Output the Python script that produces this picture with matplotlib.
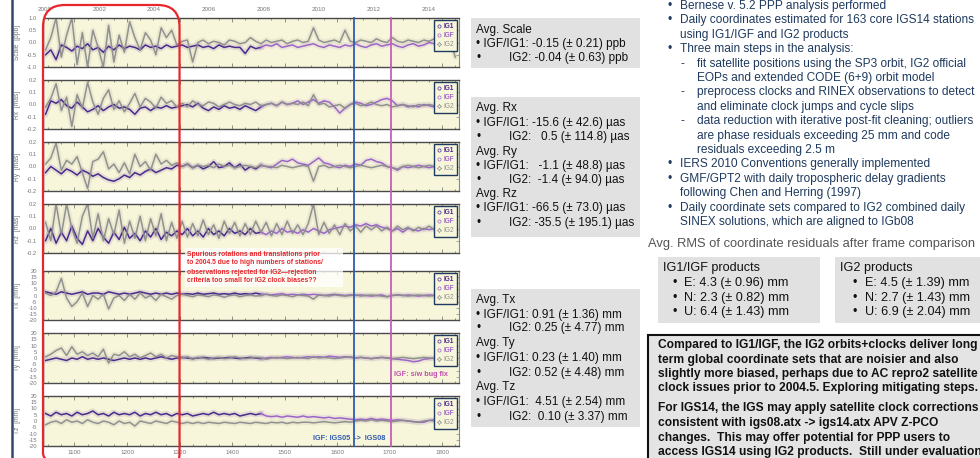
import matplotlib
matplotlib.use('Agg')
import matplotlib.pyplot as plt
import numpy as np
from matplotlib.patches import FancyBboxPatch, Rectangle
from matplotlib.lines import Line2D
import matplotlib.transforms as mtransforms

plt.rcParams['font.family'] = ['Liberation Sans', 'DejaVu Sans']

# ---------------- data ----------------
weeks = np.arange(1045, 1830, 10)   # GPS weeks (79 samples)
IG1_LAST = 41                        # IG1 until ~week 1455, IGF afterwards

scale_ig1igf = [
 -0.5, -0.3, -0.7, -0.1, -0.2, -0.35, -0.15, -0.25, -0.05, -0.3,
 -0.2, -0.4, -0.15, -0.3, -0.1, -0.25, -0.15, -0.2, -0.3, -0.1,
 -0.2, -0.15, -0.25, -0.1, -0.2, -0.15, -0.1, -0.2, -0.15, -0.1,
 -0.2, -0.15, -0.25, -0.1, -0.2, -0.15, -0.2, -0.2, -0.45, -0.15,
 -0.25, -0.2, -0.1, -0.15, -0.05, -0.2, -0.15, -0.1, -0.2, -0.15,
 -0.1, -0.05, -0.15, -0.2, -0.1, -0.15, -0.2, -0.1, -0.15, -0.05,
 -0.15, -0.2, -0.1, -0.05, -0.15, -0.1, -0.05, -0.15, -0.2, -0.1,
 -0.05, -0.15, -0.1, 0.0, -0.05, -0.1, -0.05, -0.1, -0.1]
scale_ig2 = [
 -0.3, 0.2, 1.0, -0.6, 0.3, 1.0, -0.9, 0.4, -1.0, 0.5,
 -0.2, -1.0, 0.7, -0.8, 0.3, -0.4, 0.85, 0.2, -0.3, 0.4,
 0.1, -0.5, 0.6, 0.2, 0.5, -0.1, 0.05, 0.1, -0.8, 0.0,
 0.1, -0.05, 0.05, 0.0, -0.1, 0.1, 0.05, -0.05, 0.0, 0.2,
 0.05, -0.05, 0.1, 0.0, 0.05, 0.1, -0.05, 0.05, 0.1, 0.0,
 0.05, 0.6, 0.1, 0.0, 0.05, 0.1, 0.0, 0.5, 0.05, 0.0,
 0.1, 0.05, 0.0, 0.15, 0.05, 0.0, 0.2, 0.05, 0.0, 0.1,
 0.05, 0.0, 0.1, 0.05, 0.15, 0.0, 0.05, 0.1, -0.6]

rx_ig1igf = [
 -0.08, 0.03, 0.01, 0.04, -0.01, -0.03, 0.02, -0.02, -0.06, -0.04,
 -0.01, -0.05, -0.02, 0.0, -0.03, -0.02, -0.04, -0.08, -0.03, -0.02,
 -0.05, -0.02, -0.03, -0.01, -0.03, -0.02, -0.01, 0.0, -0.02, 0.01,
 -0.03, -0.05, -0.02, -0.04, -0.01, -0.03, -0.02, -0.04, -0.01, -0.03,
 -0.05, -0.02, 0.0, 0.01, -0.01, 0.02, 0.0, 0.01, 0.03, 0.0,
 0.02, 0.04, 0.01, 0.03, 0.02, -0.02, -0.07, -0.03, 0.0, 0.02,
 0.01, -0.01, 0.0, 0.02, 0.04, 0.05, 0.03, -0.01, 0.0, -0.02,
 -0.01, -0.02, 0.0, -0.01, -0.02, -0.01, 0.0, -0.01, 0.0]
rx_ig2 = [
 -0.02, 0.05, 0.17, -0.05, 0.06, -0.18, 0.08, -0.03, 0.18, 0.02,
 -0.08, 0.05, 0.12, -0.04, 0.03, -0.06, 0.01, 0.09, -0.02, 0.05,
 0.02, -0.03, 0.06, 0.01, 0.03, -0.02, 0.01, -0.02, 0.03, 0.0,
 -0.01, 0.02, 0.01, -0.02, 0.0, 0.02, 0.0, -0.01, 0.01, 0.0,
 0.02, -0.01, 0.0, 0.01, -0.01, 0.02, 0.0, 0.01, 0.0, 0.02,
 -0.01, 0.08, 0.0, 0.01, -0.02, -0.01, 0.0, -0.03, 0.0, 0.01,
 -0.01, 0.0, 0.02, 0.0, -0.01, 0.0, -0.02, -0.01, 0.0, -0.01,
 -0.02, 0.0, -0.01, 0.0, -0.01, 0.0, 0.01, 0.0, 0.0]

ry_ig1igf = [
 -0.05, 0.0, -0.03, -0.06, -0.02, -0.04, -0.07, -0.03, -0.05, -0.08,
 -0.06, -0.09, -0.11, -0.12, -0.1, -0.07, -0.09, -0.05, -0.07, -0.04,
 -0.02, -0.05, -0.03, -0.01, -0.02, 0.01, 0.0, 0.02, -0.01, 0.01,
 -0.02, 0.0, 0.04, -0.01, 0.0, 0.03, -0.01, 0.02, -0.03, 0.0,
 -0.02, 0.01, 0.0, -0.01, 0.02, 0.05, 0.04, 0.06, 0.03, 0.02,
 0.01, 0.04, 0.07, 0.03, 0.02, 0.0, -0.01, 0.01, 0.0, 0.02,
 0.01, 0.05, 0.06, 0.04, 0.03, 0.0, -0.01, -0.03, 0.0, -0.01,
 0.0, 0.01, 0.0, -0.01, 0.0, 0.01, 0.0, 0.01, 0.0]
ry_ig2 = [
 0.02, 0.07, 0.19, -0.03, 0.05, 0.02, 0.08, -0.05, -0.18, 0.04,
 0.06, 0.12, -0.02, 0.02, -0.05, 0.03, -0.06, 0.1, 0.0, 0.04,
 -0.03, 0.1, 0.02, 0.05, 0.01, 0.03, 0.0, 0.02, -0.01, 0.01,
 0.0, 0.01, -0.01, 0.02, 0.0, 0.01, -0.01, 0.0, 0.01, 0.0,
 -0.01, 0.01, 0.0, 0.0, -0.01, 0.01, 0.0, -0.01, 0.0, 0.01,
 0.0, -0.12, 0.0, 0.01, -0.01, 0.0, 0.01, 0.0, -0.01, 0.0,
 0.01, 0.0, -0.01, 0.0, 0.01, 0.0, -0.01, -0.02, 0.0, 0.01,
 0.0, -0.01, 0.0, 0.01, 0.0, -0.01, 0.0, 0.01, 0.0]

rz_ig1igf = [
 -0.1, 0.0, -0.12, -0.03, -0.1, 0.02, -0.08, -0.13, -0.02, -0.1,
 0.0, -0.07, -0.12, -0.03, -0.09, 0.01, -0.08, -0.04, -0.1, -0.02,
 -0.07, 0.0, -0.09, -0.03, -0.06, -0.02, -0.05, 0.0, -0.06, -0.02,
 -0.07, 0.0, -0.05, -0.02, -0.06, 0.0, -0.04, -0.02, -0.05, 0.0,
 -0.04, -0.03, -0.05, -0.02, -0.04, 0.0, -0.03, -0.02, -0.04, -0.01,
 -0.03, 0.0, -0.02, -0.04, -0.01, 0.0, 0.01, 0.02, 0.01, 0.03,
 0.02, 0.04, 0.02, 0.03, 0.01, 0.0, -0.02, 0.0, -0.03, 0.0,
 -0.01, -0.02, 0.0, -0.01, 0.0, 0.01, -0.01, 0.0, 0.0]
rz_ig2 = [
 0.05, -0.1, 0.2, -0.05, 0.2, 0.0, -0.12, 0.1, 0.2, -0.08,
 0.12, -0.1, 0.08, -0.05, 0.15, -0.12, 0.06, -0.08, 0.1, -0.1,
 0.08, -0.06, 0.12, -0.1, 0.05, -0.08, 0.06, -0.07, 0.04, -0.06,
 0.07, -0.05, 0.03, -0.08, 0.06, -0.04, 0.05, -0.06, 0.04, -0.05,
 0.06, -0.03, 0.05, -0.06, 0.04, -0.05, 0.06, -0.04, 0.03, -0.05,
 0.04, 0.2, -0.05, 0.05, -0.04, 0.03, -0.05, 0.04, -0.02, 0.02,
 -0.03, 0.02, -0.01, 0.02, -0.02, 0.01, -0.02, 0.02, -0.01, 0.01,
 -0.02, 0.01, -0.01, 0.02, -0.01, 0.0, -0.02, 0.01, -0.01]

tx_ig1igf = [
 3, 2, 1, 3, 2, 1, 2, 3, 1, 2,
 2, 1, 3, 2, 1, 2, 1, 2, 3, 2,
 1, 2, 1, 2, 1, 2, 1, 1.5, 1, 2,
 1, 1.5, 2, 1, 1.5, 1, 2, 1, 1.5, 1,
 2, 1, 1, 0.5, 1, 1.5, 0.5, 1, 0.5, 1,
 0.5, 1, 0.5, 0, 0.5, 1, 0.5, 0, 0.5, 0,
 0.5, 0, -0.5, 0, 0.5, -1, 0, 0.5, 0, 0.5,
 0, -0.5, 0, 0.5, 0, 0.5, 0, 0, 0]
tx_ig2 = [
 2, 0, 3, 14, -2, -9, -5, 2, -9, 0,
 -3, 1, -11, -2, 0, -4, 1, -3, 2, -2,
 0, -4, 1, -1, -3, 0, 1, 0, -1, 0.5,
 0, -1, 0.5, 0, -1.5, 0, 0.5, -1, 0, 0.5,
 -0.5, 0, 1, 0, -0.5, 0.5, 0, -1, 0.5, 0,
 -0.5, -3, 0.5, 0, -0.5, 0.5, 0, -0.5, 0, 0.5,
 -0.5, 0, 0.5, 0, -0.5, -1, 0, 0.5, 0, -0.5,
 0, 0.5, 0, -0.5, 0, 0.5, 0, -0.5, 0]

ty_ig1igf = [
 -2, -1, 0, -1, -2, 0, -1, 1, -1, 0,
 -1, 0, -1, -2, -1, 0, -1, 0, -1, 0,
 -1, 0, 1, 0, -1, 0, 0.5, 0, -0.5, 0,
 0.5, 0, -0.5, 0, 0, 0.5, 0, -0.5, 0, 0.5,
 0, -0.5, 0, 0.5, 0, 0.5, 1, 0.5, 0, 0.5,
 1, 0.5, 1, 0.5, 1.5, 1, 0.5, 1, 0.5, 0,
 0.5, 0, -0.5, 0, 0.5, 0, -0.5, -1, -1.5, -2,
 -3, -2.5, -1, -0.5, 0, 0.5, 0, 0.5, 0]
ty_ig2 = [
 1, 3, 6, 8, 2, 9, 3, 5, 2, 4,
 1, 7, -4, 3, 2, 5, 1, 3, 0, 2,
 4, 1, 3, 0, 2, 1, 0, 1, -1, 0.5,
 0, -1, 0, 0.5, -0.5, 0, 1, 0, -0.5, 0,
 0.5, 0, -1, 0, 0.5, 0, -0.5, 0, 0.5, 0,
 -0.5, 1, 0, 0.5, 0, -0.5, 0, 0.5, 1, 0,
 0.5, 0, -0.5, 0, 0.5, 0, -0.5, 0, 0.5, 0,
 -0.5, 0, 0.5, 0, -0.5, 0, 0.5, 0, 0]

tz_ig1igf = [
 6, 4, 7, 5, 6, 4, 7, 5, 6, 8,
 5, 6, 4, 7, 5, 6, 5, 7, 4, 6,
 5, 7, 5, 6, 4, 6, 5, 6, 4, 5,
 6, 5, 7, 5, 6, 5, 6, 4, 5, 6,
 5, 6, 4, 3.5, 4, 3, 4, 3.5, 3, 4,
 3, 3.5, 3, 2.5, 3, 2, 2.5, 2, 1.5, 1,
 1.5, 1, 2, 1, 1.5, 1, 0.5, 1, 0.5, 0,
 -0.5, -1, -1, 0.5, 1, 0.5, 1, 0.5, 1]
tz_ig2 = [
 -3, -1, 0, -2, 1, -1, 0, -2, 1, -1,
 -2, 0, -1, -3, 0, -2, -1, -4, 0, -1,
 -2, 0, -1, -2, 0, -1, -2, -1, -2, -1,
 -2, -1, -1.5, -2, -1, -1.5, -2, -1, -1.5, -2,
 -1, -1.5, -2, -1, -1.5, -1, -2, -1, -1.5, -1,
 -1, -1.5, -1, -0.5, -1, -1.5, -1, -0.5, -1, 0,
 0.5, 0, 1, 0, 0.5, 0, -0.5, 0, 0.5, 0,
 -0.5, -1, 0, 0.5, 0, -0.5, 0, 0.5, 0]

panel_names = ['Scale  [ppb]', 'Rx  [mas]', 'Ry  [mas]', 'Rz  [mas]',
               'Tx  [mm]', 'Ty  [mm]', 'Tz  [mm]']
panel_purple = [scale_ig1igf, rx_ig1igf, ry_ig1igf, rz_ig1igf,
                tx_ig1igf, ty_ig1igf, tz_ig1igf]
panel_grey = [scale_ig2, rx_ig2, ry_ig2, rz_ig2, tx_ig2, ty_ig2, tz_ig2]
panel_lim = [1.0, 0.2, 0.2, 0.2, 20, 20, 20]
panel_ticks = [[-1.0, -0.5, 0.0, 0.5, 1.0]] + [[-0.2, -0.1, 0.0, 0.1, 0.2]] * 3 \
    + [list(range(-20, 21, 5))] * 3
panel_ticklabels = [['-1.0', '-0.5', '0.0', '0.5', '1.0']] + \
    [['-0.2', '-0.1', '0.0', '0.1', '0.2']] * 3 + \
    [['-20', '-15', '-10', '-5', '0', '5', '10', '15', '20']] * 3
year_ticks = [2000, 2002, 2004, 2006, 2008, 2010, 2012, 2014]
week_ticks = [1100, 1200, 1300, 1400, 1500, 1600, 1700, 1800]
IGS08_WEEK = 1632
BUGFIX_WEEK = 1702
BOX_EDGE_WEEK = 1300

# ---------------- layout ----------------
W, H = 980, 458
fig = plt.figure(figsize=(W / 100, H / 100), dpi=100)
fig.patch.set_facecolor('white')

panel_px = [(18, 67), (80, 129), (142, 191), (204, 253),
            (271, 320), (333, 383), (396, 446)]
AX_L, AX_R = 44, 459

BG = '#f8f6da'
C_IG1 = '#4b2a8e'
C_IGF = '#9c66c8'
C_IG2 = '#8c8c8c'
TICKC = '#777777'


def w2y(w):
    return 1980.0137 + np.asarray(w) * 7.0 / 365.25


def y2w(y):
    return (np.asarray(y) - 1980.0137) * 365.25 / 7.0


axes = []
for i, (top, bot) in enumerate(panel_px):
    ax = fig.add_axes([AX_L / W, 1 - bot / H, (AX_R - AX_L) / W, (bot - top) / H])
    ax.set_facecolor(BG)
    lim = panel_lim[i]
    pur = np.asarray(panel_purple[i], dtype=float)
    gry = np.asarray(panel_grey[i], dtype=float)
    # faint halos
    ax.plot(weeks, gry, color=C_IG2, lw=4.0, alpha=0.13, solid_capstyle='round')
    ax.plot(weeks[:IG1_LAST + 1], pur[:IG1_LAST + 1], color=C_IG1, lw=4.0, alpha=0.12)
    ax.plot(weeks[IG1_LAST:], pur[IG1_LAST:], color=C_IGF, lw=4.0, alpha=0.12)
    # main lines
    ax.plot(weeks[:IG1_LAST + 1], pur[:IG1_LAST + 1], color=C_IG1, lw=1.1)
    ax.plot(weeks[IG1_LAST:], pur[IG1_LAST:], color=C_IGF, lw=1.1)
    ax.plot(weeks, gry, color=C_IG2, lw=1.1, alpha=0.95)

    ax.set_xlim(1042, 1832)
    ax.set_ylim(-lim, lim)
    ax.set_yticks(panel_ticks[i])
    ax.set_yticklabels(panel_ticklabels[i])
    ax.tick_params(axis='y', which='both', left=False, right=True, direction='in',
                   length=2.5, width=0.5, colors='#888888', labelsize=4.2,
                   labelcolor=TICKC, pad=5)
    ax.set_xticks(week_ticks)
    ax.set_xticks(np.arange(1050, 1832, 25), minor=True)
    ax.tick_params(axis='x', which='both', top=True, bottom=True, direction='in',
                   colors='#666666', width=0.5, labelsize=4.5, labelcolor=TICKC, pad=3)
    ax.tick_params(axis='x', which='major', length=3)
    ax.tick_params(axis='x', which='minor', length=1.5)
    if i < 6:
        ax.tick_params(axis='x', labelbottom=False)
    for s in ('top', 'bottom'):
        ax.spines[s].set_color('#4a4a4a')
        ax.spines[s].set_linewidth(1.0)
    ax.spines['left'].set_color('#bbbbbb')
    ax.spines['left'].set_linewidth(0.5)
    ax.spines['right'].set_color('#888888')
    ax.spines['right'].set_linewidth(0.8)

    handles = [
        Line2D([], [], ls='none', marker='o', mfc='none', mec=C_IG1, ms=2.3, mew=0.5),
        Line2D([], [], ls='none', marker='o', mfc='none', mec=C_IGF, ms=2.3, mew=0.5),
        Line2D([], [], ls='none', marker=(4, 1, 0), mfc='none', mec=C_IG2, ms=3.2, mew=0.5),
    ]
    leg = ax.legend(handles, ['IG1', 'IGF', 'IG2'], loc='upper right',
                    bbox_to_anchor=(0.995, 0.955), fontsize=4.7, frameon=True,
                    fancybox=False, framealpha=1, facecolor=BG, edgecolor='#1f3a60',
                    borderpad=0.45, labelspacing=0.3, handlelength=0.6,
                    handletextpad=0.35, borderaxespad=0.0)
    leg.get_frame().set_linewidth(1.0)
    for t, c, wgt in zip(leg.get_texts(), [C_IG1, C_IGF, C_IG2], ['bold', 'bold', 'normal']):
        t.set_color(c)
        t.set_fontweight(wgt)
    axes.append(ax)

sec = axes[0].secondary_xaxis('top', functions=(w2y, y2w))
sec.set_xticks(year_ticks)
sec.set_xticklabels([str(y) for y in year_ticks])
sec.tick_params(axis='x', length=0, labelsize=4.5, labelcolor=TICKC, pad=4)
sec.spines['top'].set_visible(False)

# ---------------- overlay (pixel coordinates) ----------------
ov = fig.add_axes([0, 0, 1, 1], zorder=10)
ov.set_xlim(0, W)
ov.set_ylim(H, 0)
ov.axis('off')
ov.patch.set_visible(False)

ov.plot([12, 12], [0, H], color='#2d4a6b', lw=1.8)

for i, (top, bot) in enumerate(panel_px):
    ov.text(17, (top + bot) / 2, panel_names[i], rotation=90, ha='center', va='center',
            fontsize=4.8, color=TICKC)

blend = mtransforms.blended_transform_factory(axes[0].transData, ov.transData)
ov.plot([IGS08_WEEK, IGS08_WEEK], [panel_px[0][0], panel_px[-1][1]], transform=blend,
        color='#2f5cb0', lw=1.3)
ov.plot([BUGFIX_WEEK, BUGFIX_WEEK], [panel_px[0][0], panel_px[-1][1]], transform=blend,
        color='#c85fb8', lw=1.3)

# red rounded box (left edge at panel start, right edge at week 1300)
x_red = axes[0].transData.transform((BOX_EDGE_WEEK, 0))[0]
x_red = ov.transData.inverted().transform((x_red, 0))[0]
ov.add_patch(FancyBboxPatch((43, 5), x_red - 43, 470,
                            boxstyle='round,pad=0,rounding_size=22',
                            ec='#e8262c', fc='none', lw=1.6))

ov.add_patch(Rectangle((185, 248), 158, 39, fc='white', ec='none', alpha=0.75))
sp_lines = ['Spurious rotations and translations prior',
            'to 2004.5 due to high numbers of stations/',
            'observations rejected for IG2\u2014rejection',
            'criteria too small for IG2 clock biases??']
for k, s in enumerate(sp_lines):
    ov.text(187, 254 + 9 * k, s, fontsize=4.9, color='#e8262c', fontweight='bold',
            va='center', ha='left')

ov.text(313, 439, 'IGF: IGS05  ->  IGS08', fontsize=5.2, color='#2f5cb0',
        fontweight='bold', va='center', ha='left')
ov.text(394, 375, 'IGF: s/w bug fix', fontsize=5.2, color='#c04fb0',
        fontweight='bold', va='center', ha='left')

# ---------------- middle grey boxes ----------------
BOXC = '#e1e1e1'
TXT = '#111111'
MFS = 8.5
for (y0, y1) in [(18, 68), (97, 237), (289, 427)]:
    ov.add_patch(Rectangle((471, y0), 169, y1 - y0, fc=BOXC, ec='none'))


def stat_block(title, a, b, ys):
    ov.text(476, ys[0], title, fontsize=MFS, color=TXT, va='center')
    ov.text(476, ys[1], '\u2022 IGF/IG1: ' + a, fontsize=MFS, color=TXT, va='center')
    ov.text(476, ys[2], '\u2022', fontsize=MFS, color=TXT, va='center')
    ov.text(509, ys[2], 'IG2: ' + b, fontsize=MFS, color=TXT, va='center')


stat_block('Avg. Scale', '-0.15 (\u00b1 0.21) ppb', '-0.04 (\u00b1 0.63) ppb', [30, 44, 58])
stat_block('Avg. Rx', '-15.6 (\u00b1 42.6) \u00b5as', '  0.5 (\u00b1 114.8) \u00b5as', [108, 123, 137])
stat_block('Avg. Ry', '  -1.1 (\u00b1 48.8) \u00b5as', ' -1.4 (\u00b1 94.0) \u00b5as', [152, 166, 180])
stat_block('Avg. Rz', '-66.5 (\u00b1 73.0) \u00b5as', '-35.5 (\u00b1 195.1) \u00b5as', [194, 208, 223])
stat_block('Avg. Tx', '0.91 (\u00b1 1.36) mm', '0.25 (\u00b1 4.77) mm', [300, 315, 328])
stat_block('Avg. Ty', '0.23 (\u00b1 1.40) mm', '0.52 (\u00b1 4.48) mm', [343, 358, 373])
stat_block('Avg. Tz', ' 4.51 (\u00b1 2.54) mm', ' 0.10 (\u00b1 3.37) mm', [387, 402, 417])

# ---------------- right column ----------------
RC = '#1f3a5f'
RFS = 8.6
right_lines = [
    ('b', 'Bernese v. 5.2 PPP analysis performed'),
    ('b', 'Daily coordinates estimated for 163 core IGS14 stations'),
    ('c', 'using IG1/IGF and IG2 products'),
    ('b', 'Three main steps in the analysis:'),
    ('d', 'fit satellite positions using the SP3 orbit, IG2 official'),
    ('e', 'EOPs and extended CODE (6+9) orbit model'),
    ('d', 'preprocess clocks and RINEX observations to detect'),
    ('e', 'and eliminate clock jumps and cycle slips'),
    ('d', 'data reduction with iterative post-fit cleaning; outliers'),
    ('e', 'are phase residuals exceeding 25 mm and code'),
    ('e', 'residuals exceeding 2.5 m'),
    ('b', 'IERS 2010 Conventions generally implemented'),
    ('b', 'GMF/GPT2 with daily tropospheric delay gradients'),
    ('c', 'following Chen and Herring (1997)'),
    ('b', 'Daily coordinate sets compared to IG2 combined daily'),
    ('c', 'SINEX solutions, which are aligned to IGb08'),
]
for k, (kind, s) in enumerate(right_lines):
    y = 6 + 14.4 * k
    if kind == 'b':
        ov.text(667, y, '\u2022', fontsize=RFS, color=RC, va='center')
        ov.text(680, y, s, fontsize=RFS, color=RC, va='center')
    elif kind == 'c':
        ov.text(680, y, s, fontsize=RFS, color=RC, va='center')
    elif kind == 'd':
        ov.text(680, y, '-', fontsize=RFS, color=RC, va='center')
        ov.text(697, y, s, fontsize=RFS, color=RC, va='center')
    else:
        ov.text(697, y, s, fontsize=RFS, color=RC, va='center')

ov.text(648, 244, 'Avg. RMS of coordinate residuals after frame comparison',
        fontsize=9.3, color='#555555', va='center')

RMSF = 9.1
ov.add_patch(Rectangle((658, 257), 162, 66, fc=BOXC, ec='none'))
ov.add_patch(Rectangle((835, 257), 160, 66, fc=BOXC, ec='none'))
ov.text(663, 268, 'IG1/IGF products', fontsize=RMSF, color=TXT, va='center')
ov.text(840, 268, 'IG2 products', fontsize=RMSF, color=TXT, va='center')
rms1 = ['E: 4.3 (\u00b1 0.96) mm', 'N: 2.3 (\u00b1 0.82) mm', 'U: 6.4 (\u00b1 1.43) mm']
rms2 = ['E: 4.5 (\u00b1 1.39) mm', 'N: 2.7 (\u00b1 1.43) mm', 'U: 6.9 (\u00b1 2.04) mm']
for k in range(3):
    y = 283 + 14.5 * k
    ov.text(672, y, '\u2022', fontsize=RMSF, color=TXT, va='center')
    ov.text(684, y, rms1[k], fontsize=RMSF, color=TXT, va='center')
    ov.text(852, y, '\u2022', fontsize=RMSF, color=TXT, va='center')
    ov.text(865, y, rms2[k], fontsize=RMSF, color=TXT, va='center')

ov.add_patch(Rectangle((648, 335), 360, 140, fc='#e4e4e4', ec='#111111', lw=1.5))
concl = [
    'Compared to IG1/IGF, the IG2 orbits+clocks deliver long',
    'term global coordinate sets that are noisier and also',
    'slightly more biased, perhaps due to AC repro2 satellite',
    'clock issues prior to 2004.5. Exploring mitigating steps.',
    'For IGS14, the IGS may apply satellite clock corrections',
    'consistent with igs08.atx -> igs14.atx APV Z-PCO',
    'changes.  This may offer potential for PPP users to',
    'access IGS14 using IG2 products.  Still under evaluation.',
]
concl_y = [345, 359.5, 374, 388.5, 408.5, 423, 437.5, 452]
for s, y in zip(concl, concl_y):
    ov.text(658, y, s, fontsize=8.65, color='#111111', fontweight='bold', va='center')

fig.savefig('out.png', dpi=100)
